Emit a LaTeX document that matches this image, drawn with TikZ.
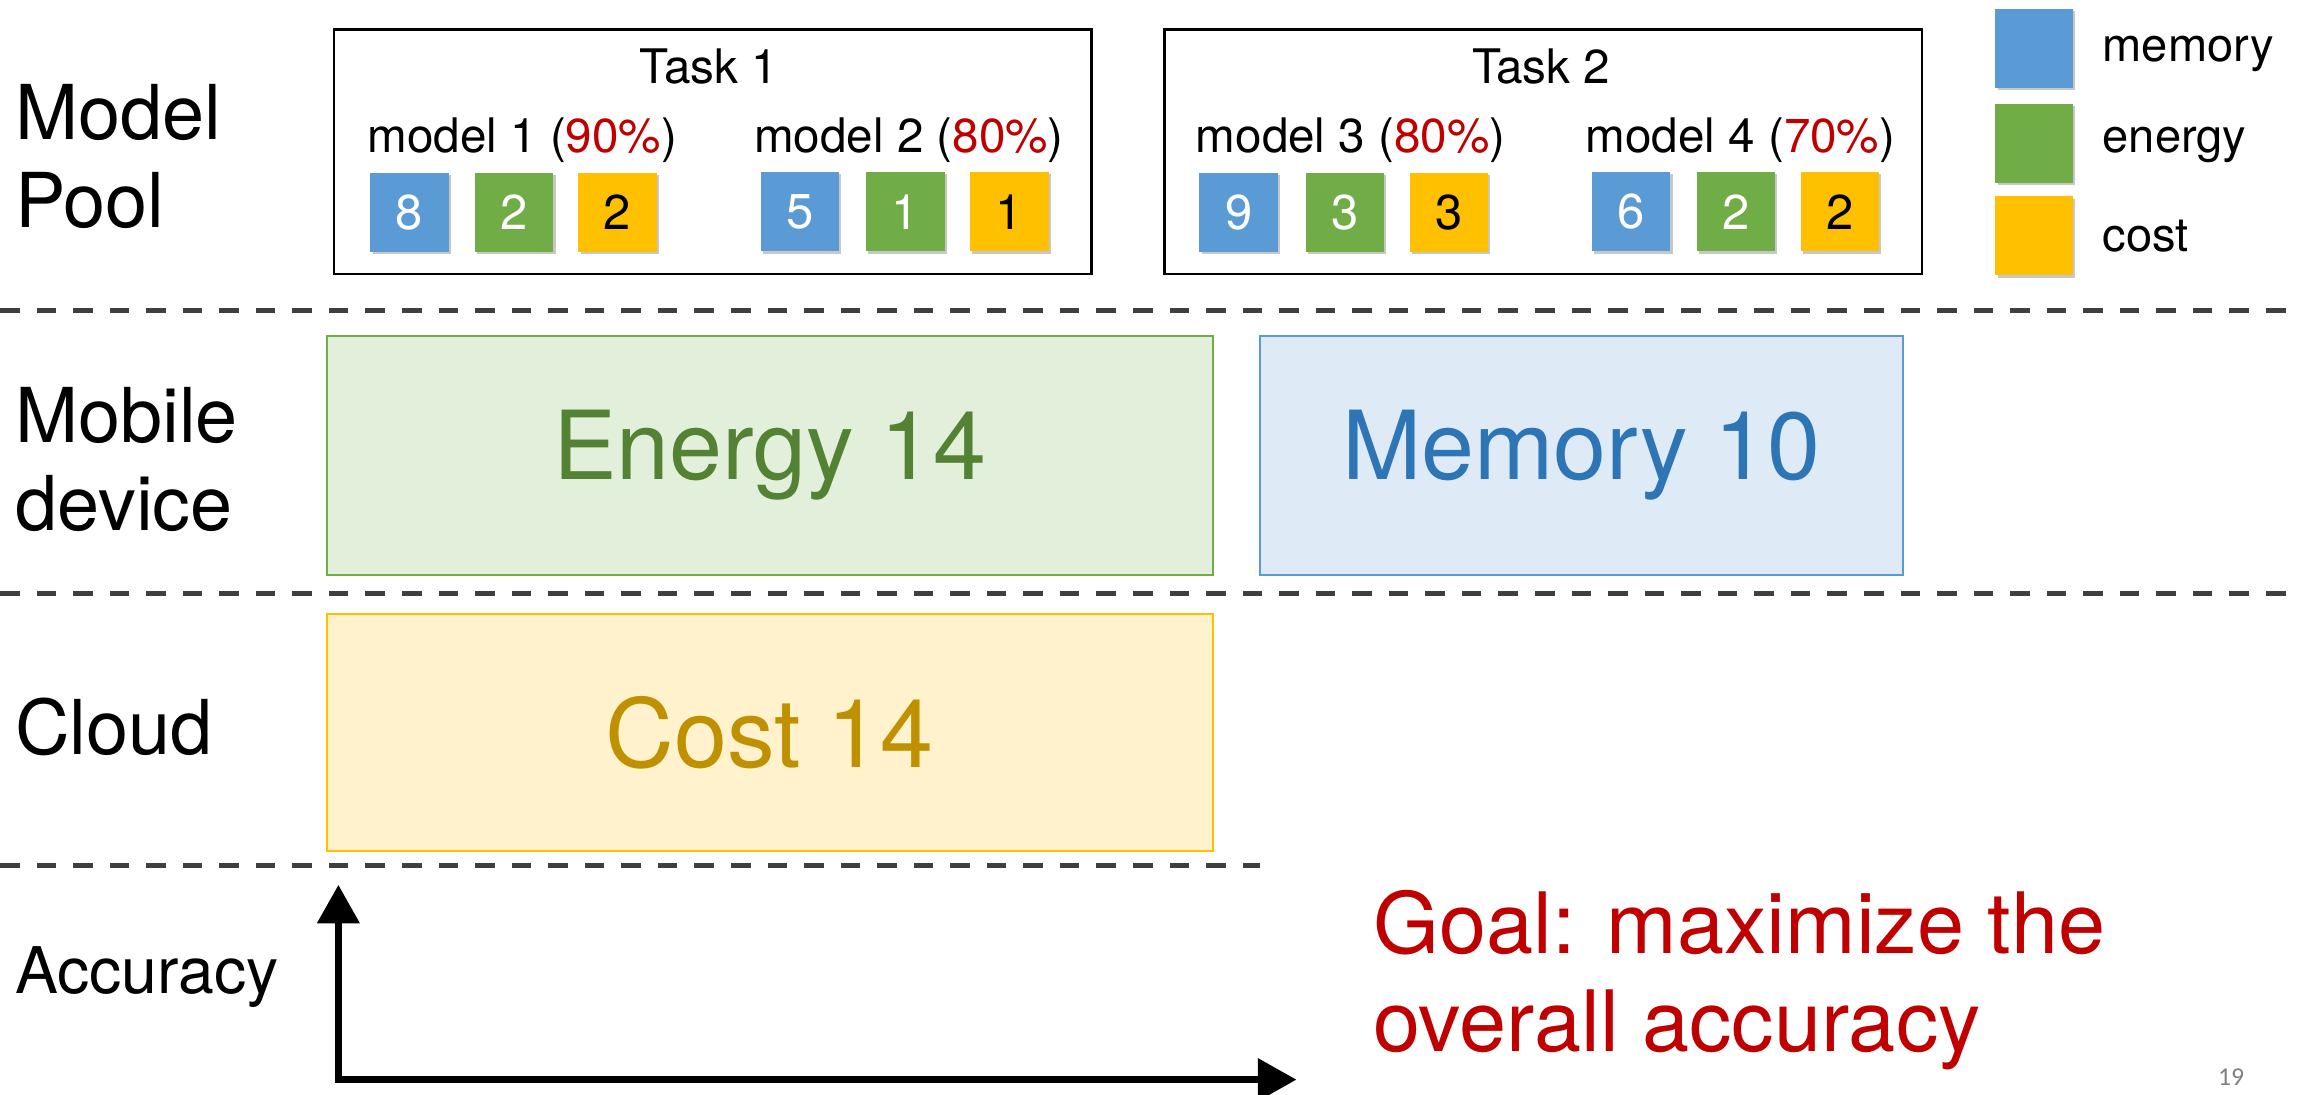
\documentclass[tikz,border=0pt]{standalone}
\usepackage{fontspec}
\setmainfont{TeX Gyre Heros}
\newfontfamily\pagenumfont{Carlito}
\usetikzlibrary{arrows.meta,shadows}
\definecolor{cblue}{HTML}{5B9BD5}
\definecolor{cgreen}{HTML}{70AD47}
\definecolor{cyellow}{HTML}{FFC000}
\definecolor{pred}{HTML}{C00000}
\definecolor{sepgray}{HTML}{3F3F3F}
\definecolor{egfill}{HTML}{E2EFDA}
\definecolor{egtext}{HTML}{548235}
\definecolor{mmfill}{HTML}{DEEBF7}
\definecolor{mmtext}{HTML}{2E75B6}
\definecolor{ctfill}{HTML}{FFF2CC}
\definecolor{cttext}{HTML}{BF9000}
\newcommand{\fsz}[1]{\fontsize{#1pt}{1.2\dimexpr#1pt\relax}\selectfont}
\tikzset{
  sq/.style={minimum width=1.07cm, minimum height=1.08cm, inner sep=0pt,
    font=\fsz{19}, drop shadow={shadow xshift=0.9pt, shadow yshift=-0.9pt, opacity=0.22, fill=black}},
  bsq/.style={sq, fill=cblue, text=white},
  gsq/.style={sq, fill=cgreen, text=white},
  ysq/.style={sq, fill=cyellow, text=black},
  lsq/.style={minimum width=1.06cm, minimum height=1.08cm, inner sep=0pt,
    drop shadow={shadow xshift=0.9pt, shadow yshift=-0.9pt, opacity=0.22, fill=black}},
  taskbox/.style={draw=black, line width=1pt, minimum width=10.34cm, minimum height=3.34cm, inner sep=0pt},
  small/.style={font=\fsz{18.5}, inner sep=0pt, anchor=base},
  rowlabel/.style={font=\fsz{29.4}, inner sep=0pt, anchor=base west},
  legtext/.style={font=\fsz{18.3}, inner sep=0pt, anchor=base west},
  bigbox/.style={line width=0.9pt, minimum height=3.26cm, inner sep=0pt, font=\fsz{37}},
  sep/.style={draw=sepgray, line width=2pt, dash pattern=on 7.6pt off 6.6pt},
  axis/.style={line width=2.8pt, {Triangle[length=15pt,width=16pt]}-{Triangle[length=15pt,width=16pt]}}
}
\begin{document}
\begin{tikzpicture}[x=0.02cm, y=-0.02cm]
\useasboundingbox (0,0) rectangle (1568,747);

% row labels
\node[rowlabel] (lmodel) at (10,95) {Model};
\node[rowlabel] (lpool) at (10,155) {Pool};
\node[rowlabel] (lmobile) at (10,302) {Mobile};
\node[rowlabel] (ldevice) at (10,362) {device};
\node[rowlabel] (lcloud) at (10,515) {Cloud};
\node[font=\fsz{25}, inner sep=0pt, anchor=base west] (lacc) at (10,678) {Accuracy};

% separators
\draw[sep] (0,212) -- (1568,212);
\draw[sep] (0,405) -- (1568,405);
\draw[sep] (0,591) -- (860,591);

% task boxes
\node[taskbox] (task1) at (486.5,103.5) {};
\node[taskbox] (task2) at (1053.5,103.5) {};
\node[small] (t1title) at (484,57) {Task 1};
\node[small] (t2title) at (1052,57) {Task 2};
\node[small] (m1) at (356.5,104) {model 1 ({\color{pred}90\%})};
\node[small] (m2) at (620.5,104) {model 2 ({\color{pred}80\%})};
\node[small] (m3) at (922,104) {model 3 ({\color{pred}80\%})};
\node[small] (m4) at (1188,104) {model 4 ({\color{pred}70\%})};

% model squares
\node[bsq] (m1a) at (279.5,145) {8};
\node[gsq] (m1b) at (351,145) {2};
\node[ysq] (m1c) at (421.5,145) {2};
\node[bsq] (m2a) at (546,144.5) {5};
\node[gsq] (m2b) at (618,144.5) {1};
\node[ysq] (m2c) at (689,144.5) {1};
\node[bsq] (m3a) at (845.5,145) {9};
\node[gsq] (m3b) at (918,145) {3};
\node[ysq] (m3c) at (989,145) {3};
\node[bsq] (m4a) at (1113.5,144.5) {6};
\node[gsq] (m4b) at (1185,144.5) {2};
\node[ysq] (m4c) at (1256,144.5) {2};

% legend
\node[lsq, fill=cblue] (legm) at (1388.5,33) {};
\node[lsq, fill=cgreen] (lege) at (1388.5,98) {};
\node[lsq, fill=cyellow] (legc) at (1388.5,161) {};
\node[legtext] (legmt) at (1435,42) {memory};
\node[legtext] (leget) at (1435,104) {energy};
\node[legtext] (legct) at (1435,172) {cost};

% resource boxes
\node[bigbox, draw=cgreen, fill=egfill, text=egtext, minimum width=12.1cm] (energy) at (525.5,311) {Energy 14};
\node[bigbox, draw=cblue, fill=mmfill, text=mmtext, minimum width=8.78cm] (memory) at (1079.5,311) {Memory 10};
\node[bigbox, draw=cyellow, fill=ctfill, text=cttext, minimum width=12.1cm, minimum height=3.24cm] (cost) at (525.5,500) {Cost 14};

% axes
\coordinate (origin) at (231,737);
\coordinate (ytip) at (231,604);
\coordinate (xtip) at (885,737);
\draw[axis] (ytip) -- (origin) -- (xtip);

% goal
\node[font=\fsz{32.9}, text=pred, inner sep=0pt, anchor=base west] (goal1) at (937,651) {Goal: maximize the};
\node[font=\fsz{32.9}, text=pred, inner sep=0pt, anchor=base west] (goal2) at (937,718) {overall accuracy};

% page number
\node[font=\pagenumfont\fsz{10}, text=gray, inner sep=0pt, anchor=base] (pagenum) at (1523,741) {19};
\end{tikzpicture}
\end{document}
